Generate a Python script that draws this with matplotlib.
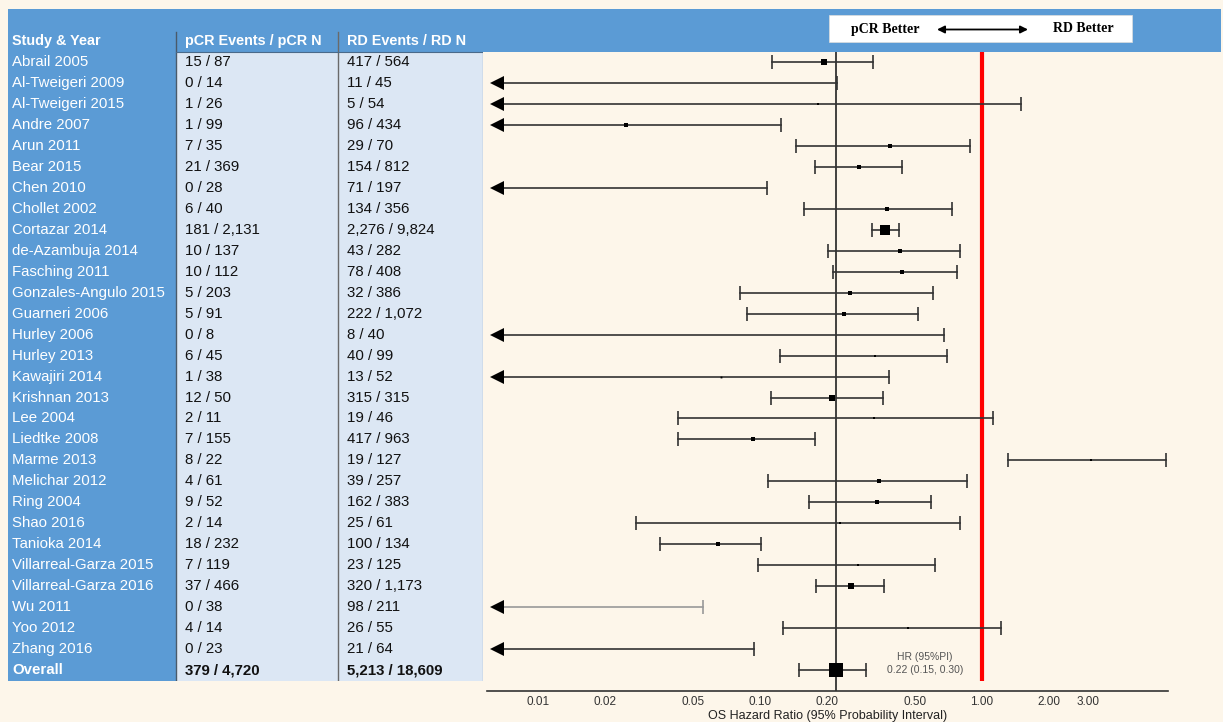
import numpy as np
import matplotlib
matplotlib.use("Agg")
import matplotlib.pyplot as plt
from matplotlib.patches import Rectangle

# ---- data ----
studies = ["Abrail 2005", "Al-Tweigeri 2009", "Al-Tweigeri 2015", "Andre 2007", "Arun 2011",
           "Bear 2015", "Chen 2010", "Chollet 2002", "Cortazar 2014", "de-Azambuja 2014",
           "Fasching 2011", "Gonzales-Angulo 2015", "Guarneri 2006", "Hurley 2006", "Hurley 2013",
           "Kawajiri 2014", "Krishnan 2013", "Lee 2004", "Liedtke 2008", "Marme 2013",
           "Melichar 2012", "Ring 2004", "Shao 2016", "Tanioka 2014", "Villarreal-Garza 2015",
           "Villarreal-Garza 2016", "Wu 2011", "Yoo 2012", "Zhang 2016"]
pcr_events = [15, 0, 1, 1, 7, 21, 0, 6, 181, 10, 10, 5, 5, 0, 6, 1, 12, 2, 7, 8, 4, 9, 2, 18, 7, 37, 0, 4, 0]
pcr_n = [87, 14, 26, 99, 35, 369, 28, 40, 2131, 137, 112, 203, 91, 8, 45, 38, 50, 11, 155, 22,
         61, 52, 14, 232, 119, 466, 38, 14, 23]
rd_events = [417, 11, 5, 96, 29, 154, 71, 134, 2276, 43, 78, 32, 222, 8, 40, 13, 315, 19, 417, 19,
             39, 162, 25, 100, 23, 320, 98, 26, 21]
rd_n = [564, 45, 54, 434, 70, 812, 197, 356, 9824, 282, 408, 386, 1072, 40, 99, 52, 315, 46, 963, 127,
        257, 383, 61, 134, 125, 1173, 211, 55, 64]

# hazard ratios (nan = below plotted range)
hr = [0.195, np.nan, 0.183, 0.0248, 0.384, 0.279, np.nan, 0.375, 0.366, 0.427,
      0.436, 0.253, 0.239, np.nan, 0.330, 0.0665, 0.212, 0.326, 0.0927, 3.08,
      0.342, 0.336, 0.230, 0.0646, 0.277, 0.256, np.nan, 0.465, np.nan]
hr_lo = [0.1135, np.nan, np.nan, np.nan, 0.145, 0.177, np.nan, 0.157, 0.319, 0.203,
         0.214, 0.081, 0.0874, np.nan, 0.123, np.nan, 0.112, 0.0428, 0.0426, 1.31,
         0.109, 0.166, 0.0277, 0.0355, 0.098, 0.178, np.nan, 0.127, np.nan]
hr_hi = [0.323, 0.221, 1.50, 0.124, 0.887, 0.438, 0.108, 0.731, 0.421, 0.797,
         0.769, 0.599, 0.513, 0.672, 0.693, 0.381, 0.359, 1.116, 0.176, 6.74,
         0.856, 0.587, 0.793, 0.1007, 0.615, 0.362, 0.0553, 1.214, 0.094]
# relative study weight
weight = [5, 0, 2, 3.3, 3.3, 4, 0, 4, 8.5, 3, 3, 3, 4, 0, 2.2, 1.5, 4.5, 2, 4, 2,
          3, 3.5, 2.3, 3.5, 2.2, 5, 0, 2.3, 0]

overall_label = "Overall"
overall_pcr = "379 / 4,720"
overall_rd = "5,213 / 18,609"
overall_hr, overall_lo, overall_hi = 0.22, 0.15, 0.30
overall_weight = 13

xticks = [0.01, 0.02, 0.05, 0.10, 0.20, 0.50, 1.00, 2.00, 3.00]
xlim = (0.00589, 6.88)

# ---- style ----
W, H = 1223, 722
CREAM = "#FDF6EA"
BLUE = "#5B9BD5"
LIGHT = "#DCE7F4"
ROW0, DY = 62.0, 20.97
FONT = "Liberation Sans"


def fmt(n):
    return f"{n:,}"


def row_px(r):
    return ROW0 + r * DY


fig = plt.figure(figsize=(W / 100, H / 100), dpi=100, facecolor=CREAM)

# background / decoration axes in pixel coordinates
bg = fig.add_axes([0, 0, 1, 1], zorder=0)
bg.set_xlim(0, W)
bg.set_ylim(H, 0)
bg.axis("off")
bg.add_patch(Rectangle((8, 9), 1213, 43, color=BLUE, lw=0))
bg.add_patch(Rectangle((829, 15), 303, 27, facecolor="white", edgecolor="#DDDDDD", lw=0.5))
bg.text(885, 29, "pCR Better", family="Liberation Serif", weight="bold", fontsize=10,
        ha="center", va="center")
bg.text(1083, 29, "RD Better", family="Liberation Serif", weight="bold", fontsize=10,
        ha="center", va="center")
bg.annotate("", xy=(1028, 29.5), xytext=(937, 29.5),
            arrowprops=dict(arrowstyle="<|-|>", color="black", lw=1.3,
                            mutation_scale=11, shrinkA=0, shrinkB=0))

# ---- table ----
n = len(studies)
top_row = (9 - ROW0) / DY
bot_row = n + 0.5
tab = fig.add_axes([8 / W, 1 - row_px(bot_row) / H, 475 / W, (row_px(bot_row) - 9) / H], zorder=1)
tab.set_xlim(8, 483)
tab.set_ylim(bot_row, top_row)
tab.axis("off")
tab.add_patch(Rectangle((8, -0.5), 168, n + 1, color=BLUE, lw=0))
tab.add_patch(Rectangle((176, -0.5), 307, n + 1, color=LIGHT, lw=0))
tab.plot([176, 176], [-1.45, bot_row], color="#4A5A6A", lw=1)
tab.plot([338, 338], [-1.45, bot_row], color="#6A6A6A", lw=1)
tab.plot([483, 483], [-0.5, bot_row], color="#9AAFC8", lw=1)
tab.plot([176, 483], [-0.5, -0.5], color="#4A6A8A", lw=0.8)

hdr_kw = dict(family=FONT, weight="bold", fontsize=10.4, color="white", va="center")
tab.text(12, -1, "Study & Year", **hdr_kw)
tab.text(185, -1, "pCR Events / pCR N", **hdr_kw)
tab.text(347, -1, "RD Events / RD N", **hdr_kw)

body_kw = dict(family=FONT, fontsize=10.8, va="center")
for i in range(n):
    tab.text(12, i, studies[i], color="white", **body_kw)
    tab.text(185, i, f"{fmt(pcr_events[i])} / {fmt(pcr_n[i])}", color="#111111", **body_kw)
    tab.text(347, i, f"{fmt(rd_events[i])} / {fmt(rd_n[i])}", color="#111111", **body_kw)
tab.text(12, n, overall_label, color="white", weight="bold", **body_kw)
tab.text(185, n, overall_pcr, color="#111111", weight="bold", **body_kw)
tab.text(347, n, overall_rd, color="#111111", weight="bold", **body_kw)

# ---- forest plot ----
axis_px = 690.7
ax_bottom_row = (axis_px - ROW0) / DY
ax_top_row = (52 - ROW0) / DY
ax = fig.add_axes([487 / W, 1 - axis_px / H, (1168 - 487) / W, (axis_px - 52) / H], zorder=2)
ax.patch.set_alpha(0)
ax.set_xscale("log")
ax.set_xlim(*xlim)
ax.set_ylim(ax_bottom_row, ax_top_row)

ax.axvline(overall_hr, color="#222222", lw=1.2, zorder=1)
ax.plot([1, 1], [ax_top_row, n + 0.5], color="#FF0000", lw=3, zorder=1, solid_capstyle="butt")

arrow_x = xlim[0] * 10 ** (10 / 222)
for i in range(n):
    col = "#999999" if studies[i] == "Wu 2011" else "#333333"
    lo = hr_lo[i]
    if np.isnan(lo):
        ax.plot([arrow_x, hr_hi[i]], [i, i], color=col, lw=1.2, zorder=2)
        ax.plot([arrow_x], [i], marker="<", ms=10.5, color="black", mew=0, zorder=3)
    else:
        ax.plot([lo, hr_hi[i]], [i, i], color=col, lw=1.2, zorder=2)
        ax.plot([lo], [i], marker="|", ms=10, mew=1.2, color=col, zorder=3)
    ax.plot([hr_hi[i]], [i], marker="|", ms=10, mew=1.2, color=col, zorder=3)
    if not np.isnan(hr[i]):
        ax.plot([hr[i]], [i], marker="s", ms=weight[i] / 1.15, color="black", mew=0, zorder=4)

ax.plot([overall_lo, overall_hi], [n, n], color="#333333", lw=1.2, zorder=2)
ax.plot([overall_lo, overall_hi], [n, n], ls="none", marker="|", ms=10, mew=1.2,
        color="#333333", zorder=3)
ax.plot([overall_hr], [n], marker="s", ms=overall_weight / 1.3, color="black", mew=0, zorder=4)

ann_x = 10 ** ((925 - 982) / 222)
ax.text(ann_x, n - 0.62, "HR (95%PI)", fontsize=7.5, color="#555555",
        ha="center", va="center", family=FONT)
ax.text(ann_x, n, "0.22 (0.15, 0.30)", fontsize=7.5, color="#555555",
        ha="center", va="center", family=FONT)

for s in ["top", "right", "left"]:
    ax.spines[s].set_visible(False)
ax.spines["bottom"].set_color("#333333")
ax.spines["bottom"].set_linewidth(1.2)
ax.set_yticks([])
ax.set_xticks(xticks)
ax.set_xticklabels([f"{t:.2f}" for t in xticks], fontsize=8.5, color="#333333", family=FONT)
ax.xaxis.set_minor_locator(matplotlib.ticker.NullLocator())
ax.tick_params(axis="x", length=0, pad=4)
ax.set_xlabel("OS Hazard Ratio (95% Probability Interval)", fontsize=9, color="#222222",
              family=FONT, labelpad=1)

fig.savefig("out.png", dpi=100, facecolor=CREAM)
